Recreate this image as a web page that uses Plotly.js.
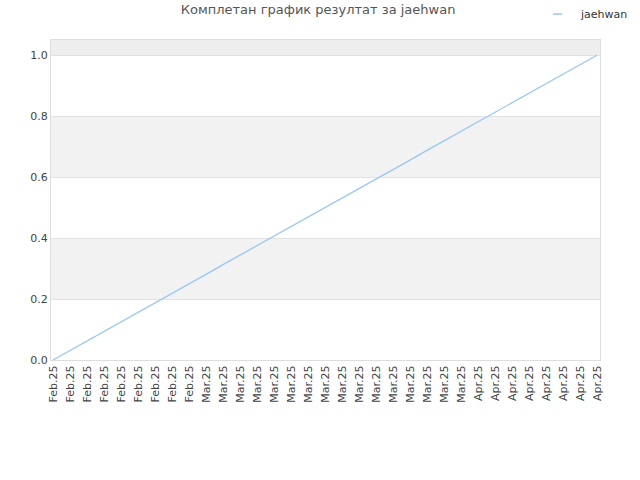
<!DOCTYPE html>
<html>
<head>
<meta charset="utf-8">
<script src="https://cdn.plot.ly/plotly-3.0.1.min.js"></script>
<style>html,body{margin:0;padding:0;background:#fff;}#chart{width:640px;height:480px;}</style>
</head>
<body>
<div id="chart"></div>
<script>
var seriesName = "jaehwan";
var tickLabels = [
  "Feb.25","Feb.25","Feb.25","Feb.25","Feb.25","Feb.25","Feb.25","Feb.25","Feb.25",
  "Mar.25","Mar.25","Mar.25","Mar.25","Mar.25","Mar.25","Mar.25","Mar.25",
  "Mar.25","Mar.25","Mar.25","Mar.25","Mar.25","Mar.25","Mar.25","Mar.25",
  "Apr.25","Apr.25","Apr.25","Apr.25","Apr.25","Apr.25","Apr.25","Apr.25"
];
var values = [0, 0.031, 0.063, 0.094, 0.125, 0.156, 0.188, 0.219, 0.25, 0.281, 0.313,
  0.344, 0.375, 0.406, 0.438, 0.469, 0.5, 0.531, 0.563, 0.594, 0.625, 0.656, 0.688,
  0.719, 0.75, 0.781, 0.813, 0.844, 0.875, 0.906, 0.938, 0.969, 1.0];
var positions = tickLabels.map(function(_, i){ return i; });

var lineColor = "#99c7f4";
var bandColor = "#f2f2f2";
var shapes = [
  {type:"rect", xref:"paper", yref:"y", x0:0, x1:1, y0:0.2, y1:0.4, fillcolor:bandColor, line:{width:0}, layer:"below"},
  {type:"rect", xref:"paper", yref:"y", x0:0, x1:1, y0:0.6, y1:0.8, fillcolor:bandColor, line:{width:0}, layer:"below"},
  {type:"rect", xref:"paper", yref:"y", x0:0, x1:1, y0:1.0, y1:1.05, fillcolor:"#eeeeee", line:{width:0}, layer:"below"},
  // legend swatch
  {type:"line", xref:"paper", yref:"paper", x0:0.9145, x1:0.9309, y0:1.081, y1:1.081, line:{color:lineColor, width:1.5}}
];

var trace = {
  x: positions, y: values, type:"scatter", mode:"lines", name: seriesName,
  line:{color:lineColor, width:1.3}
};

var layout = {
  width:640, height:480,
  margin:{l:51, r:40, t:40, b:120, autoexpand:false},
  paper_bgcolor:"#ffffff", plot_bgcolor:"#ffffff",
  font:{family:"DejaVu Sans, sans-serif", size:11, color:"#444"},
  title:{text:"Комплетан график резултат за jaehwan", x:0.497, xanchor:"center", y:0.99, yanchor:"top",
    font:{family:"DejaVu Sans, sans-serif", size:13, color:"#555"}},
  showlegend:false,
  annotations:[
    {text:seriesName, xref:"paper", yref:"paper", x:0.96, xanchor:"left", y:1.081, yanchor:"middle",
     showarrow:false, font:{size:11, color:"#333"}}
  ],
  xaxis:{
    range:[-0.12, 32.18], tickmode:"array", tickvals:positions, ticktext:tickLabels,
    tickangle:-90, showgrid:false, zeroline:false, showline:true, linecolor:"#dddddd",
    mirror:true, ticks:"", tickfont:{size:11, color:"#444"}, fixedrange:true
  },
  yaxis:{
    range:[0, 1.05], tickvals:[0,0.2,0.4,0.6,0.8,1.0], ticktext:["0.0","0.2","0.4","0.6","0.8","1.0"],
    showgrid:true, gridcolor:"#e2e2e2", zeroline:false, showline:true, linecolor:"#dddddd",
    mirror:true, ticks:"", tickfont:{size:11, color:"#444"}, fixedrange:true
  },
  shapes: shapes
};

Plotly.newPlot("chart", [trace], layout, {displayModeBar:false, staticPlot:true});
</script>
</body>
</html>
